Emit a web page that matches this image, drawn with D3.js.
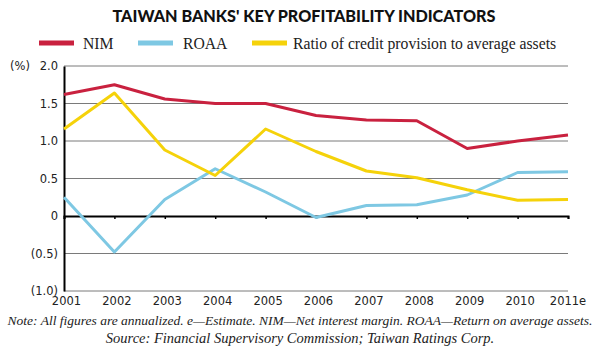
<!DOCTYPE html>
<html>
<head>
<meta charset="utf-8">
<script src="https://cdn.jsdelivr.net/npm/d3@7"></script>
<style>
  body { margin: 0; background: #fff; }
  svg { display: block; }
</style>
</head>
<body>
<svg id="chart"></svg>
<script>
const width = 600, height = 353;

const years = ['2001','2002','2003','2004','2005','2006','2007','2008','2009','2010','2011e'];
const nim = [1.62, 1.75, 1.56, 1.50, 1.50, 1.34, 1.28, 1.27, 0.90, 1.00, 1.08];
const roaa = [0.25, -0.48, 0.22, 0.63, 0.32, -0.02, 0.14, 0.15, 0.28, 0.58, 0.59];
const provision = [1.16, 1.64, 0.88, 0.54, 1.16, 0.86, 0.60, 0.51, 0.35, 0.21, 0.22];
const yTicks = [2.0, 1.5, 1.0, 0.5, 0, -0.5, -1.0];
const seriesNames = ['NIM', 'ROAA', 'Ratio of credit provision to average assets'];
const colors = {NIM: '#c9213f', ROAA: '#7ec8e3', 'Ratio of credit provision to average assets': '#f5d20a'};

const svg = d3.select('#chart')
  .attr('width', width)
  .attr('height', height);

const x = d3.scalePoint().domain(years).range([64, 568]);
const y = d3.scaleLinear().domain([-1, 2]).range([291, 66]);

const fmt = (d) => d === 0 ? '0' : d < 0 ? '(' + Math.abs(d).toFixed(1) + ')' : d.toFixed(1);
const axisFont = '"DejaVu Sans", Verdana, sans-serif';

// title
svg.append('text')
  .attr('x', 304).attr('y', 22)
  .attr('text-anchor', 'middle')
  .style('font-family', 'Lato, "Open Sans", sans-serif')
  .style('font-weight', 900)
  .style('font-size', '16.2px')
  .style('fill', '#111')
  .text("TAIWAN BANKS' KEY PROFITABILITY INDICATORS");

// legend
const legendLineX = [39, 138, 252];
const legendTextX = [83, 183, 293];
const legend = svg.append('g').selectAll('g')
  .data(seriesNames)
  .enter().append('g');
legend.append('line')
  .attr('x1', (d, i) => legendLineX[i]).attr('x2', (d, i) => legendLineX[i] + 35)
  .attr('y1', 43).attr('y2', 43)
  .attr('stroke', d => colors[d]).attr('stroke-width', 5);
legend.append('text')
  .attr('x', (d, i) => legendTextX[i]).attr('y', 48.5)
  .style('font-family', '"Liberation Serif", serif')
  .style('font-size', '15.7px')
  .style('fill', '#222')
  .text(d => d);

// gridlines
svg.append('g').selectAll('line')
  .data(yTicks.filter(d => d !== 0))
  .enter().append('line')
  .attr('x1', 64).attr('x2', 568)
  .attr('y1', d => y(d)).attr('y2', d => y(d))
  .attr('stroke', '#7a7a7a').attr('stroke-width', 1);

// y axis
const yAxis = svg.append('g')
  .attr('transform', 'translate(64,0)')
  .call(d3.axisLeft(y).tickValues(yTicks).tickFormat(fmt).tickSize(0).tickPadding(6));
yAxis.select('.domain').attr('stroke', '#000').attr('stroke-width', 2);
yAxis.selectAll('text')
  .style('font-family', axisFont)
  .style('font-size', '11.5px')
  .style('fill', '#222');

svg.append('text')
  .attr('x', 10).attr('y', y(2) + 4)
  .style('font-family', axisFont)
  .style('font-size', '11.5px')
  .style('fill', '#222')
  .text('(%)');

// zero line with ticks
const xAxis = svg.append('g')
  .attr('transform', `translate(0,${y(0)})`)
  .call(d3.axisBottom(x).tickSize(3).tickFormat(''));
xAxis.select('.domain').attr('stroke', '#000').attr('stroke-width', 2);
xAxis.selectAll('.tick line').attr('stroke', '#000').attr('stroke-width', 1.5);

// year labels
svg.append('g').selectAll('text')
  .data(years)
  .enter().append('text')
  .attr('x', d => x(d) + (d === '2011e' ? 0 : 2.5))
  .attr('y', 305)
  .attr('text-anchor', 'middle')
  .style('font-family', axisFont)
  .style('font-size', '11.5px')
  .style('fill', '#222')
  .text(d => d);

// lines
const line = d3.line()
  .x((d, i) => x(years[i]))
  .y(d => y(d));

const series = [nim, roaa, provision];
svg.append('g').selectAll('path')
  .data(series)
  .enter().append('path')
  .attr('d', d => line(d))
  .attr('fill', 'none')
  .attr('stroke', (d, i) => colors[seriesNames[i]])
  .attr('stroke-width', 3)
  .attr('stroke-linejoin', 'round');

// notes
svg.append('text')
  .attr('x', 300).attr('y', 325)
  .attr('text-anchor', 'middle')
  .style('font-family', '"Liberation Serif", serif')
  .style('font-style', 'italic')
  .style('font-size', '13.5px')
  .style('fill', '#222')
  .text('Note: All figures are annualized. e\u2014Estimate. NIM\u2014Net interest margin. ROAA\u2014Return on average assets.');

svg.append('text')
  .attr('x', 300).attr('y', 343)
  .attr('text-anchor', 'middle')
  .style('font-family', '"Liberation Serif", serif')
  .style('font-style', 'italic')
  .style('font-size', '14.5px')
  .style('fill', '#222')
  .text('Source: Financial Supervisory Commission; Taiwan Ratings Corp.');
</script>
</body>
</html>
